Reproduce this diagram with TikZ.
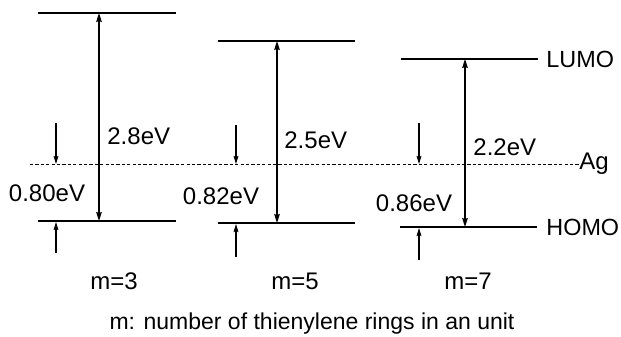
\documentclass[tikz,border=0pt]{standalone}
\usepackage{fontspec}
\setmainfont{Liberation Sans}
\usetikzlibrary{arrows.meta,positioning}

\begin{document}
\begin{tikzpicture}[
x=0.5pt, y=-0.5pt,
font=\fontsize{12}{14}\selectfont,
level/.style={line width=0.8pt},
fermi/.style={line width=0.5pt, dash pattern=on 1.6pt off 1.1pt},
gap/.style={{Stealth[length=4.5pt,width=2.8pt,inset=0.6pt]}-{Stealth[length=4.5pt,width=2.8pt,inset=0.6pt]}, line width=0.75pt},
barrier/.style={-{Stealth[length=4pt,width=2.4pt,inset=0.5pt]}, line width=0.6pt},
lbl/.style={inner sep=0pt},
orbital/.style={inner sep=0pt, anchor=west, font=\fontsize{11.7}{14}\selectfont}
]
\useasboundingbox (0,0) rectangle (621,337);

\coordinate (lumoA) at (99,13);
\coordinate (homoA) at (99,221);
\coordinate (lumoB) at (277,41);
\coordinate (homoB) at (277,223);
\coordinate (lumoC) at (465,59);
\coordinate (homoC) at (465,227);

\draw[level] (38,13) -- (176,13);
\draw[level] (38,221) -- (176,221);
\draw[level] (218,41) -- (355,41);
\draw[level] (218,223) -- (355,223);
\draw[level] (401,59) -- (538,59);
\draw[level] (400,227) -- (537,227);

\coordinate (agL) at (30,164);
\node[lbl, anchor=west] (ag) at (579,164) {Ag};
\draw[fermi] (agL) -- (ag.west);

\node[orbital] (lumo) at (546,59) {LUMO};
\node[orbital] (homo) at (546,227) {HOMO};

\draw[gap] (lumoA) -- (homoA);
\draw[gap] (lumoB) -- (homoB);
\draw[gap] (lumoC) -- (homoC);

\node[lbl, anchor=west] (gapA) at (107,136) {2.8eV};
\node[lbl, anchor=west] (gapB) at (284,140) {2.5eV};
\node[lbl, anchor=west] (gapC) at (473,147) {2.2eV};

\coordinate (topA) at (56,123);
\coordinate (agA) at (56,164);
\coordinate (botA) at (56,253);
\coordinate (hA) at (56,222);
\coordinate (topB) at (236,125);
\coordinate (agB) at (236,164);
\coordinate (botB) at (236,257);
\coordinate (hB) at (236,224);
\coordinate (topC) at (419,123);
\coordinate (agC) at (419,164);
\coordinate (botC) at (419,260);
\coordinate (hC) at (419,228);

\draw[barrier] (topA) -- (agA);
\draw[barrier] (botA) -- (hA);
\draw[barrier] (topB) -- (agB);
\draw[barrier] (botB) -- (hB);
\draw[barrier] (topC) -- (agC);
\draw[barrier] (botC) -- (hC);

\node[lbl] (phiA) at (47,193) {0.80eV};
\node[lbl] (phiB) at (221,196) {0.82eV};
\node[lbl] (phiC) at (414,203) {0.86eV};

\node[lbl] (mA) at (114,281) {m=3};
\node[lbl] (mB) at (295,281) {m=5};
\node[lbl] (mC) at (468,281) {m=7};

\node[lbl, font=\fontsize{11.5}{13}\selectfont] (caption) at (312,324) {m: number of thienylene rings in an unit};
\end{tikzpicture}
\end{document}
